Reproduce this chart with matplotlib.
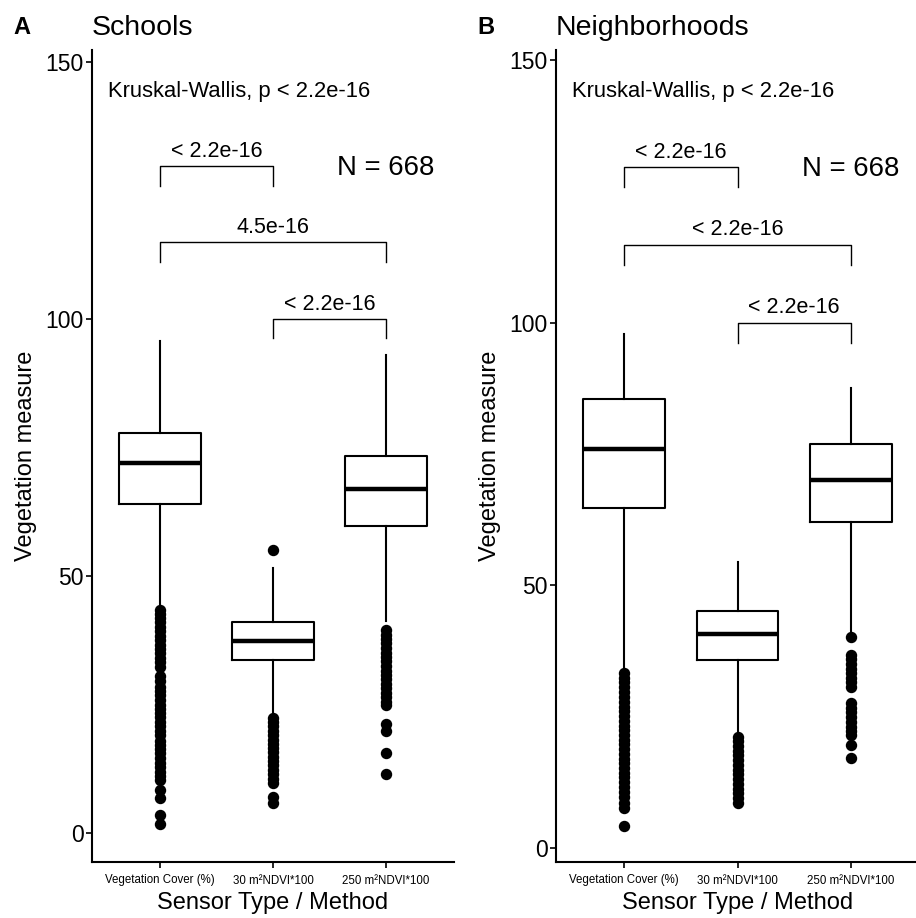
import numpy as np
import matplotlib
matplotlib.use('Agg')
import matplotlib.pyplot as plt

plt.rcParams['font.family'] = ['Liberation Sans', 'DejaVu Sans']

categories = ['Vegetation Cover (%)', '30 m²NDVI*100', '250 m²NDVI*100']

# schools
sch_med = [71.9, 37.4, 66.9]
sch_q1 = [64.1, 33.7, 59.8]
sch_q3 = [77.9, 41.0, 73.4]
sch_lo = [44.2, 23.0, 41.2]
sch_hi = [95.8, 51.6, 92.9]
sch_out = [
    [43.4, 42.6, 41.8, 41.0, 40.1, 39.3, 38.4, 37.5, 36.6, 35.8, 35.0, 34.1,
     33.3, 32.3, 30.6, 29.5, 28.4, 27.6, 26.8, 25.9, 25.0, 24.1, 23.3, 22.5,
     21.6, 20.8, 19.9, 19.0, 18.0, 17.2, 16.4, 15.5, 14.6, 13.7, 12.8, 11.9,
     11.1, 10.3, 8.4, 6.9, 3.6, 1.7],
    [55.1, 22.4, 21.6, 20.8, 19.9, 19.0, 18.2, 17.3, 16.5, 15.7, 14.8, 14.0,
     13.2, 12.3, 11.5, 10.6, 9.7, 7.1, 5.8],
    [39.5, 38.6, 37.8, 36.9, 36.0, 35.1, 34.2, 33.4, 32.5, 31.6, 30.8, 29.9,
     29.0, 28.2, 27.3, 26.4, 25.6, 24.9, 21.3, 19.9, 15.5, 11.6],
]
sch_pairs = ['< 2.2e-16', '4.5e-16', '< 2.2e-16']

# neighborhoods
nb_med = [75.9, 40.8, 70.1]
nb_q1 = [64.7, 35.8, 62.1]
nb_q3 = [85.5, 45.2, 76.9]
nb_lo = [34.2, 21.8, 41.2]
nb_hi = [97.9, 54.5, 87.7]
nb_out = [
    [33.3, 32.4, 31.5, 30.6, 29.6, 28.7, 27.8, 26.9, 26.0, 25.1, 24.2, 23.3,
     22.4, 21.5, 20.6, 19.7, 18.8, 17.9, 17.0, 16.1, 15.2, 14.3, 13.4, 12.5,
     11.6, 10.7, 9.6, 8.6, 7.6, 4.2],
    [21.2, 20.3, 19.4, 18.5, 17.6, 16.7, 15.8, 14.9, 14.0, 13.1, 12.2, 11.3,
     10.4, 9.5, 8.5],
    [40.1, 36.8, 35.9, 35.0, 34.1, 33.3, 32.4, 31.5, 30.7, 27.6, 26.7, 25.8,
     24.9, 24.0, 23.1, 22.3, 21.5, 19.6, 17.1],
]
nb_pairs = ['< 2.2e-16', '< 2.2e-16', '< 2.2e-16']

n_obs = 668
kw_label = 'Kruskal-Wallis, p < 2.2e-16'
# (group a, group b, bracket top)
brackets = [(1, 2, 129.7), (1, 3, 114.9), (2, 3, 100.0)]
bracket_drop = 3.8


def draw_panel(ax, med, q1, q3, lo, hi, out, pair_labels, ylim, letter, title):
    stats = []
    for i in range(len(categories)):
        stats.append(dict(med=med[i], q1=q1[i], q3=q3[i], whislo=lo[i],
                          whishi=hi[i], fliers=out[i]))
    ax.bxp(stats, positions=[1, 2, 3], widths=0.72, showcaps=False,
           boxprops=dict(color='black', linewidth=1.5),
           whiskerprops=dict(color='black', linewidth=1.5),
           medianprops=dict(color='black', linewidth=3.2, solid_capstyle='butt'),
           flierprops=dict(marker='o', markerfacecolor='black',
                           markeredgecolor='black', markersize=7.2))
    ax.set_xlim(0.4, 3.6)
    ax.set_ylim(*ylim)
    ax.set_yticks([0, 50, 100, 150])
    ax.set_xticks([1, 2, 3])
    ax.set_xticklabels(categories, fontsize=8.3)
    ax.tick_params(axis='y', labelsize=16.5, length=4, width=1.2, pad=2)
    ax.tick_params(axis='x', length=4, width=1.2, pad=5)
    for side in ['top', 'right']:
        ax.spines[side].set_visible(False)
    for side in ['left', 'bottom']:
        ax.spines[side].set_linewidth(1.5)
    ax.set_ylabel('Vegetation measure', fontsize=17, labelpad=6)
    ax.set_xlabel('Sensor Type / Method', fontsize=17, labelpad=4)

    for (a, b, top), lab in zip(brackets, pair_labels):
        ax.plot([a, a, b, b], [top - bracket_drop, top, top, top - bracket_drop],
                color='black', linewidth=1.0)
        ax.text((a + b) / 2, top + 1.8, lab, ha='center', va='baseline',
                fontsize=15.5)
    ax.text(0.54, 143.1, kw_label, ha='left', va='baseline', fontsize=15.8)
    ax.text(3.0, 127.9, 'N = %d' % n_obs, ha='center', va='baseline',
            fontsize=19.8)
    ax.text(-0.193, 1.02, letter, transform=ax.transAxes, fontsize=17,
            fontweight='bold', ha='center', va='baseline')
    ax.text(0.0, 1.019, title, transform=ax.transAxes, fontsize=20.5,
            ha='left', va='baseline')


fig = plt.figure(figsize=(9.16, 9.18), dpi=100)
ax1 = fig.add_axes([92 / 916, 56 / 918, 362 / 916, 812 / 918])
ax2 = fig.add_axes([556 / 916, 56 / 918, 363 / 916, 812 / 918])

draw_panel(ax1, sch_med, sch_q1, sch_q3, sch_lo, sch_hi, sch_out, sch_pairs,
           (-5.6, 152.3), 'A', 'Schools')
draw_panel(ax2, nb_med, nb_q1, nb_q3, nb_lo, nb_hi, nb_out, nb_pairs,
           (-2.7, 152.0), 'B', 'Neighborhoods')

fig.savefig('out.png', dpi=100)
